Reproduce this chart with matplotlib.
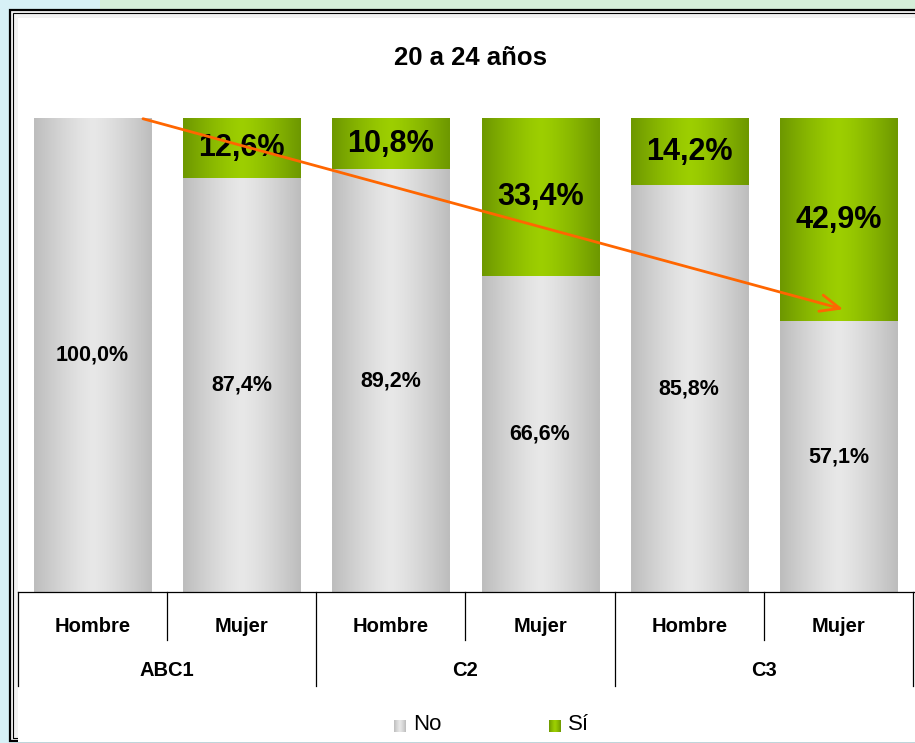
import matplotlib
matplotlib.use("Agg")
import matplotlib.pyplot as plt
from matplotlib.patches import Rectangle
import numpy as np

plt.rcParams['font.family'] = ['Liberation Sans', 'DejaVu Sans']

title = "20 a 24 años"
groups = ["ABC1", "C2", "C3"]
sexes = ["Hombre", "Mujer", "Hombre", "Mujer", "Hombre", "Mujer"]
no_vals = [100.0, 87.4, 89.2, 66.6, 85.8, 57.1]
si_vals = [0.0, 12.6, 10.8, 33.4, 14.2, 42.9]
legend_labels = ["No", "Sí"]

# trend arrow (data coords: bar index, share)
arrow_start = (0.32, 1.0)
arrow_end = (5.05, 0.595)

W, H = 915, 743
fig = plt.figure(figsize=(W / 100, H / 100), dpi=100)
fig.patch.set_facecolor("#d7f0f6")


def fx(px):
    return px / W


def fy(py):
    return 1 - py / H


# backdrop + frame (runs off the right edge, as in the source screenshot)
fig.add_artist(Rectangle((fx(100), fy(18)), fx(815), 18 / H, transform=fig.transFigure,
                         facecolor="#d5efd9", edgecolor="none", zorder=0))
fig.add_artist(Rectangle((fx(10), fy(741)), fx(960), 731 / H, transform=fig.transFigure,
                         facecolor="#f2f2f2", edgecolor="black", lw=1.6, zorder=0))
fig.add_artist(Rectangle((fx(13), fy(738)), fx(960), 725 / H, transform=fig.transFigure,
                         facecolor="none", edgecolor="black", lw=0.8, zorder=0))
fig.add_artist(Rectangle((fx(18), fy(742)), fx(960), 724 / H, transform=fig.transFigure,
                         facecolor="white", edgecolor="none", zorder=0))

ax = fig.add_axes([fx(18), fy(592), fx(913 - 18), (592 - 118) / H])
ax.set_facecolor("none")
ax.set_xlim(-0.5, 5.5)
ax.set_ylim(0, 1)
ax.axis("off")

# horizontal gradients
t = np.linspace(0, 1, 64)
shape = 1 - np.abs(2 * t - 1) ** 1.3


def grad(c_edge, c_mid):
    c_edge = np.array(matplotlib.colors.to_rgb(c_edge))
    c_mid = np.array(matplotlib.colors.to_rgb(c_mid))
    return (c_edge[None, :] + (c_mid - c_edge)[None, :] * shape[:, None])[None, :, :]


gray = grad("#bdbdbd", "#e8e8e8")
green = grad("#6e9800", "#9dcf00")

bw = 0.785
for i in range(len(sexes)):
    no = no_vals[i] / 100
    si = si_vals[i] / 100
    ax.imshow(gray, extent=(i - bw / 2, i + bw / 2, 0, no), aspect="auto", zorder=1)
    ax.text(i, no / 2, f"{no_vals[i]:.1f}%".replace(".", ","), ha="center", va="center",
            fontsize=15.5, fontweight="bold", zorder=3)
    if si > 0:
        ax.imshow(green, extent=(i - bw / 2, i + bw / 2, no, no + si), aspect="auto", zorder=1)
        ax.text(i, no + si / 2, f"{si_vals[i]:.1f}%".replace(".", ","), ha="center", va="center",
                fontsize=22, fontweight="bold", zorder=3)

ax.annotate("", xy=arrow_end, xytext=arrow_start,
            arrowprops=dict(arrowstyle="->,head_length=1.4,head_width=0.6", color="#ff6600", lw=2),
            zorder=4)

# category axis
tr = ax.get_xaxis_transform()
lk = dict(color="black", lw=0.9, clip_on=False, transform=tr)
ax.plot([-0.5, 5.6], [0, 0], **lk)
d1 = -48 / 474
d2 = -94 / 474
for j in range(7):
    x = j - 0.5
    y_end = d2 if j % 2 == 0 else d1
    ax.plot([x, x], [0, y_end], **lk)
for i, s in enumerate(sexes):
    ax.text(i, -34 / 474, s, transform=tr, ha="center", va="center", fontsize=14.5, fontweight="bold")
for g, name in enumerate(groups):
    ax.text(2 * g + 0.5, -79 / 474, name, transform=tr, ha="center", va="center",
            fontsize=14.5, fontweight="bold")

fig.text(fx(470), fy(58), title, ha="center", va="center", fontsize=18.5, fontweight="bold")

# legend
for k, (lab, g) in enumerate(zip(legend_labels, [gray, green])):
    x0 = [394, 549][k]
    lax = fig.add_axes([fx(x0), fy(732), 12 / W, 12 / H])
    lax.imshow(g, aspect="auto")
    lax.axis("off")
    fig.text(fx(x0 + 19), fy(725), lab, ha="left", va="center", fontsize=16)

fig.savefig("out.png", dpi=100, facecolor=fig.get_facecolor())
